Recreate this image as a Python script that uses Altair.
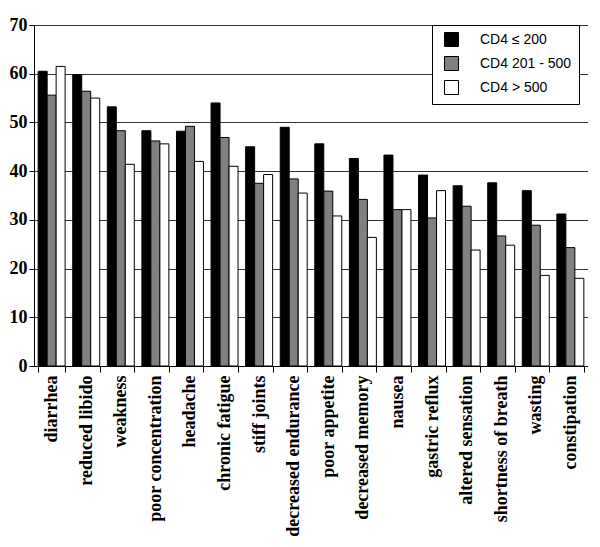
import altair as alt
import pandas as pd

symptoms = ["diarrhea", "reduced libido", "weakness", "poor concentration", "headache",
            "chronic fatigue", "stiff joints", "decreased endurance", "poor appetite",
            "decreased memory", "nausea", "gastric reflux", "altered sensation",
            "shortness of breath", "wasting", "constipation"]
groups = ["CD4 ≤ 200", "CD4 201 - 500", "CD4 > 500"]
low = [60.5, 59.8, 53.2, 48.3, 48.2, 54.0, 45.0, 49.0, 45.6, 42.6, 43.3, 39.2, 37.0, 37.6, 36.0, 31.2]
mid = [55.6, 56.4, 48.3, 46.2, 49.2, 46.9, 37.5, 38.4, 35.9, 34.2, 32.1, 30.4, 32.8, 26.7, 28.9, 24.3]
high = [61.5, 55.0, 41.4, 45.6, 42.0, 41.0, 39.3, 35.5, 30.8, 26.4, 32.1, 36.0, 23.8, 24.8, 18.6, 18.0]
colors = ["#000000", "#808080", "#ffffff"]

rows = []
for g, vals in zip(groups, [low, mid, high]):
    for s, v in zip(symptoms, vals):
        rows.append({"symptom": s, "group": g, "value": v})
df = pd.DataFrame(rows)

chart = alt.Chart(df).mark_bar(stroke="black", strokeWidth=1).encode(
    x=alt.X("symptom:N", sort=symptoms, title=None,
            scale=alt.Scale(paddingInner=0.22, paddingOuter=0.12),
            axis=alt.Axis(labelAngle=270, labelFont="Liberation Serif", labelFontWeight="bold",
                          labelFontSize=18, labelColor="black", tickBand="extent",
                          tickColor="black", tickSize=6, domainColor="black",
                          labelPadding=3, labelLimit=300)),
    xOffset=alt.XOffset("group:N", sort=groups, scale=alt.Scale(paddingInner=0)),
    y=alt.Y("value:Q", title=None,
            scale=alt.Scale(domain=[0, 70]),
            axis=alt.Axis(values=[0, 10, 20, 30, 40, 50, 60, 70], labelFont="Liberation Serif",
                          labelFontWeight="bold", labelFontSize=18, labelColor="black",
                          tickColor="black", tickSize=5, domainColor="black",
                          gridColor="#333333", gridWidth=1, labelPadding=2)),
    fill=alt.Fill("group:N", sort=groups,
                  scale=alt.Scale(domain=groups, range=colors),
                  legend=alt.Legend(title=None, orient="none", legendX=398, legendY=0,
                                    fillColor="white", strokeColor="black", padding=7,
                                    symbolType="square", symbolSize=196,
                                    symbolStrokeColor="black", symbolStrokeWidth=1,
                                    symbolOffset=5, labelOffset=21, rowPadding=5,
                                    labelFont="Liberation Sans", labelFontSize=14,
                                    labelColor="black")),
).properties(
    width=554, height=341,
    padding={"left": 1, "top": 8, "right": 0, "bottom": 0}
).configure_view(stroke="black", strokeWidth=1)

chart.save("out.html", embed_options={"renderer": "svg", "actions": False})
